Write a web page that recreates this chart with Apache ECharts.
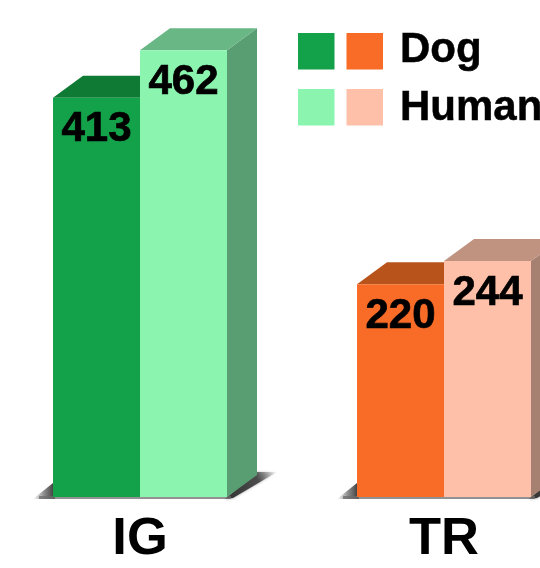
<!DOCTYPE html>
<html>
<head>
<meta charset="utf-8">
<style>html,body{margin:0;padding:0;background:#fff}#chart{width:540px;height:568px}</style>
<script src="https://cdn.jsdelivr.net/npm/echarts@6/dist/echarts.min.js"></script>
</head>
<body>
<div id="chart"></div>
<script>
const categories = ['IG', 'TR'];
const dogValues = [413, 220];
const humanValues = [462, 244];
const legendNames = ['Dog', 'Human'];

// One palette per category: front, top and side faces of each 3D column.
const dogColors = [
  { front: '#13A14A', top: '#0E7A34', side: '#0E7A34' },
  { front: '#F86C28', top: '#B8531B', side: '#B8531B' }
];
const humanColors = [
  { front: '#8BF5B0', top: '#68B785', side: '#599D72' },
  { front: '#FEC0A9', top: '#C09380', side: '#A68171' }
];

const FONT = '"Liberation Sans", Arial, sans-serif';
const BAND_RATIO = 87 / 304;   // column width as a share of the category band
const DEPTH_X = 30;
const DEPTH_Y = 22;

function poly(points, fill, extra) {
  return Object.assign({
    type: 'polygon',
    silent: true,
    shape: { points: points },
    style: { fill: fill }
  }, extra || {});
}

// Soft ground shadow underneath one pair of columns.
function floorShadow(params, api) {
  const cat = api.value(0);
  const base = api.coord([cat, 0]);
  const w = api.size([1, 0])[0] * BAND_RATIO;
  const l = base[0] - w, r = base[0] + w, y = base[1];
  const fadeLeft = {
    type: 'linear', x: 0, y: 0, x2: 1, y2: 0,
    colorStops: [
      { offset: 0, color: 'rgba(90,90,90,0)' },
      { offset: 0.5, color: 'rgba(80,80,80,0.65)' },
      { offset: 1, color: 'rgba(50,50,50,1)' }
    ]
  };
  const fadeRight = {
    type: 'linear', x: 0, y: 1, x2: 1, y2: 0,
    colorStops: [
      { offset: 0, color: 'rgba(50,50,50,1)' },
      { offset: 0.65, color: 'rgba(70,70,70,0.95)' },
      { offset: 1, color: 'rgba(110,110,110,0)' }
    ]
  };
  const soft = { shadowBlur: 3, shadowColor: 'rgba(90,90,90,0.6)' };
  return {
    type: 'group',
    children: [
      poly([[l - 20, y + 2], [l, y - 14], [l + 2, y + 2]], fadeLeft),
      {
        type: 'polygon', silent: true,
        shape: { points: [[r - 2, y + 2], [r + DEPTH_X, y - 25], [r + DEPTH_X + 20, y - 25], [r + 6, y + 1]] },
        style: Object.assign({ fill: fadeRight }, soft)
      },
      { type: 'rect', silent: true, shape: { x: l - 14, y: y - 1, width: 2 * w + 18, height: 3 }, style: { fill: 'rgba(110,110,110,0.75)' } }
    ]
  };
}

// Builds a 3D column renderer for one of the two side-by-side groups.
function column(palette, side) {
  return function (params, api) {
    const cat = api.value(0);
    const val = api.value(1);
    const top = api.coord([cat, val]);
    const base = api.coord([cat, 0]);
    const w = api.size([1, 0])[0] * BAND_RATIO;
    const x0 = side < 0 ? top[0] - w : top[0];
    const x1 = x0 + w;
    const c = palette[params.dataIndex];
    return {
      type: 'group',
      children: [
        poly([[x1, top[1]], [x1 + DEPTH_X, top[1] - DEPTH_Y], [x1 + DEPTH_X, base[1] - DEPTH_Y], [x1, base[1]]], c.side),
        poly([[x0, top[1]], [x0 + DEPTH_X, top[1] - DEPTH_Y], [x1 + DEPTH_X, top[1] - DEPTH_Y], [x1, top[1]]], c.top),
        { type: 'rect', silent: true, shape: { x: x0, y: top[1], width: w, height: base[1] - top[1] }, style: { fill: c.front } },
        {
          type: 'text', silent: true, z2: 10,
          style: {
            x: (x0 + x1) / 2, y: top[1] + 32, text: String(val),
            align: 'center', verticalAlign: 'middle',
            font: 'bold 42px ' + FONT, fill: '#000',
            stroke: '#000', lineWidth: 0.7
          }
        }
      ]
    };
  };
}

// Legend: a pair of swatches per row, one for each category's colour family.
function legendGraphics() {
  const rows = [
    { y: 33, textY: 50, colors: [dogColors[0].front, dogColors[1].front], name: legendNames[0] },
    { y: 89, textY: 108, colors: [humanColors[0].front, humanColors[1].front], name: legendNames[1] }
  ];
  const out = [];
  rows.forEach(function (row) {
    [298, 346.5].forEach(function (x, i) {
      out.push({ type: 'rect', silent: true, shape: { x: x, y: row.y, width: 36.5, height: 36.5 }, style: { fill: row.colors[i] } });
    });
    out.push({
      type: 'text', silent: true,
      style: { x: 400, y: row.textY, text: row.name, verticalAlign: 'middle', font: 'bold 42px ' + FONT, fill: '#000', stroke: '#000', lineWidth: 0.5 }
    });
  });
  return out;
}

const chart = echarts.init(document.getElementById('chart'), null, { renderer: 'canvas' });
chart.setOption({
  animation: false,
  backgroundColor: '#fff',
  grid: { left: -12, width: 608, top: 13.5, height: 483.5, outerBoundsMode: 'none' },
  xAxis: {
    type: 'category',
    data: categories,
    axisLine: { show: false },
    axisTick: { show: false },
    axisLabel: { color: '#000', fontFamily: FONT, fontWeight: 'bold', fontSize: 52.5, margin: 16 }
  },
  yAxis: { type: 'value', min: 0, max: 500, show: false },
  graphic: legendGraphics(),
  series: [
    {
      name: 'Ground', type: 'custom', z: 1, clip: false,
      encode: { x: 0, y: 1 },
      data: categories.map(function (c, i) { return [i, 0]; }),
      renderItem: floorShadow
    },
    {
      name: legendNames[0], type: 'custom', z: 2, clip: false,
      encode: { x: 0, y: 1 },
      data: dogValues.map(function (v, i) { return [i, v]; }),
      renderItem: column(dogColors, -1)
    },
    {
      name: legendNames[1], type: 'custom', z: 3, clip: false,
      encode: { x: 0, y: 1 },
      data: humanValues.map(function (v, i) { return [i, v]; }),
      renderItem: column(humanColors, 1)
    }
  ]
});
</script>
</body>
</html>
